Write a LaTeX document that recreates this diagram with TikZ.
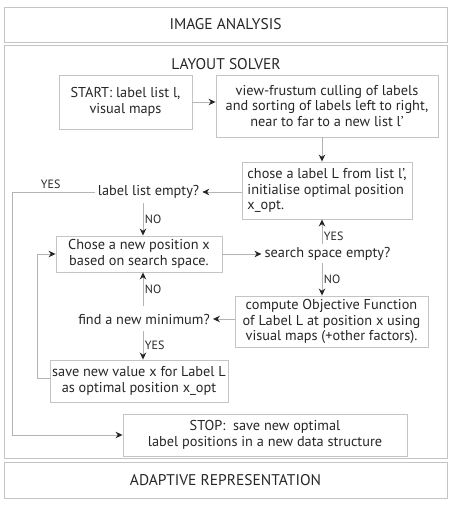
\documentclass[tikz,border=0pt]{standalone}
\usepackage{fontspec}
\setmainfont{PT Sans}
\usetikzlibrary{arrows.meta}
\definecolor{boxgray}{HTML}{C4C4C4}
\definecolor{linegray}{HTML}{B4B4B4}
\definecolor{tipdark}{HTML}{262626}
\definecolor{txt}{HTML}{262626}
\tikzset{
  panel/.style={draw=boxgray, line width=1pt, minimum width=443pt, text=txt, font=\fontsize{15.5}{18}\selectfont},
  stepbox/.style={draw=boxgray, line width=0.9pt, align=center, text=txt, inner sep=2pt},
  ask/.style={text=txt, inner sep=3pt},
  flow/.style={draw=linegray, line width=0.9pt, -{Stealth[length=7pt,width=6.5pt,color=tipdark]}},
  loop/.style={draw=linegray, line width=0.9pt},
  ans/.style={text=txt, font=\fontsize{12}{14}\selectfont, inner sep=1.5pt}
}
\begin{document}
\begin{tikzpicture}[x=1pt,y=-1pt,font=\fontsize{14.3}{15.5}\selectfont]
\useasboundingbox (0,0) rectangle (453,506);

\node[panel, minimum height=35pt] (analysis) at (225.5,24.5) {IMAGE ANALYSIS};
\node[panel, minimum height=413pt] (solver) at (225.5,251.5) {};
\node[panel, minimum height=36pt] (adaptive) at (225.5,480) {ADAPTIVE REPRESENTATION};
\node[text=txt, font=\fontsize{15.5}{18}\selectfont] (title) at (226,64) {LAYOUT SOLVER};

\node[stepbox, minimum width=133pt, minimum height=54pt] (start) at (125.5,102) {START: label list l,\\visual maps};
\node[stepbox, minimum width=222pt, minimum height=62pt] (cull) at (327,106) {view-frustum culling of labels\\and sorting of labels left to right,\\near to far to a new list l’};
\node[stepbox, minimum width=170pt, minimum height=57pt, align=left] (chose) at (327,190.5) {chose a label L from list l’,\\initialise optimal position\\x\_opt.};
\node[ask] (listempty) at (148.5,192) {label list empty?};
\node[stepbox, minimum width=166pt, minimum height=36pt] (newpos) at (139,254) {Chose a new position x\\based on search space.};
\node[ask] (spaceempty) at (327.5,254) {search space empty?};
\node[stepbox, minimum width=193pt, minimum height=51pt] (compute) at (331.5,321.5) {compute Objective Function\\of Label L at position x using\\visual maps (+other factors).};
\node[ask] (newmin) at (144,319) {find a new minimum?};
\node[stepbox, minimum width=178pt, minimum height=42pt] (save) at (139,381) {save new value x for Label L\\as optimal position x\_opt};
\node[stepbox, minimum width=284pt, minimum height=42pt] (stop) at (265,435) {STOP:\ \ save new optimal\\label positions in a new data structure};

\coordinate (outerloop) at (12,0);
\coordinate (innerloop) at (37,0);

\draw[flow] (start.east) -- (cull.west |- start.east);
\draw[flow] (cull.south -| 322,0) -- (chose.north -| 322,0);
\draw[flow] (chose.west |- listempty) -- (listempty.east);
\draw[flow] (143,203) -- (newpos.north -| 143,0) node[ans, midway, right] {NO};
\draw[flow] (newpos.east) -- (spaceempty.west);
\draw[flow] (322,244) -- (chose.south -| 322,0) node[ans, pos=0.3, right] {YES};
\draw[flow] (322,263) -- (compute.north -| 322,0) node[ans, midway, right] {NO};
\draw[flow] (compute.west |- newmin) -- (newmin.east);
\draw[flow] (143,306) -- (newpos.south -| 143,0) node[ans, midway, right] {NO};
\draw[flow] (143,331) -- (save.north -| 143,0) node[ans, midway, right] {YES};

\draw[loop] (save.west |- 0,378) -- (innerloop |- 0,378) -- (innerloop |- newpos.west);
\draw[flow] (innerloop |- newpos.west) -- (newpos.west);
\draw[loop] (listempty.west) -- (outerloop |- listempty.west) -- (outerloop |- stop.west)
  node[ans, pos=0, above right, xshift=27pt, yshift=1pt] {YES};
\draw[flow] (outerloop |- stop.west) -- (stop.west);

\end{tikzpicture}
\end{document}
